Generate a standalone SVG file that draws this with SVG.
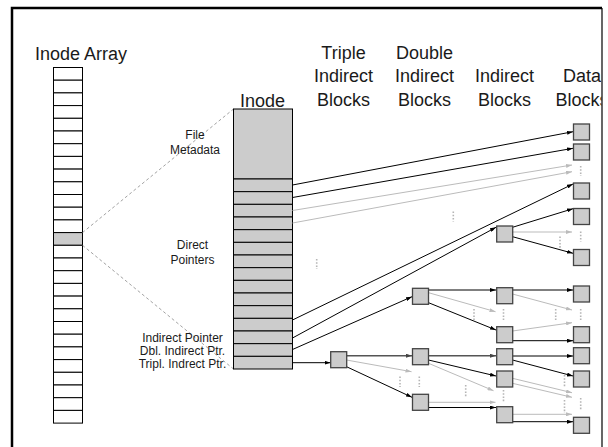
<svg xmlns="http://www.w3.org/2000/svg" width="608" height="447" viewBox="0 0 608 447">
<defs>
<style>
.hdr{font-family:"Liberation Sans",Arial,sans-serif;font-size:18px;fill:#1a1a1a;text-anchor:middle}
.lbl{font-family:"Liberation Sans",Arial,sans-serif;font-size:12px;fill:#1a1a1a;text-anchor:middle}
.cell{fill:#fff;stroke:#000;stroke-width:1}
.icell{fill:#cccccc;stroke:#000;stroke-width:1}
.blk{fill:#cccccc;stroke:#444;stroke-width:1.3}
.blk-line{fill:none;stroke:#000;stroke-width:1;marker-end:url(#ab)}
.gry-line{fill:none;stroke:#bbbbbb;stroke-width:1;marker-end:url(#ag)}
.drk-line{fill:none;stroke:#555;stroke-width:1.6;marker-end:url(#ad)}
.dots{stroke:#b5b5b5;stroke-width:1.6;stroke-dasharray:1.6,1.6;fill:none}
.dash{stroke:#8a8a8a;stroke-width:0.8;stroke-dasharray:3,2.5;fill:none}
</style>
<marker id="ab" viewBox="0 0 6 4" refX="6" refY="2" markerWidth="6" markerHeight="4" markerUnits="userSpaceOnUse" orient="auto"><path d="M0,0 L6,2 L0,4 z" fill="#000"/></marker>
<marker id="ag" viewBox="0 0 6 4" refX="6" refY="2" markerWidth="6" markerHeight="4" markerUnits="userSpaceOnUse" orient="auto"><path d="M0,0 L6,2 L0,4 z" fill="#bbbbbb"/></marker>
<marker id="ad" viewBox="0 0 6 4" refX="6" refY="2" markerWidth="6" markerHeight="4" markerUnits="userSpaceOnUse" orient="auto"><path d="M0,0 L6,2 L0,4 z" fill="#444"/></marker>
<clipPath id="frameclip"><rect x="12" y="8" width="589.5" height="445"/></clipPath>
</defs>
<rect width="608" height="447" fill="#fff"/>

<g id="frame">
<path d="M12,450 V8 H602" fill="none" stroke="#000" stroke-width="2.5"/>
<path d="M602,8 V450" fill="none" stroke="#000" stroke-width="1.2"/>
</g>

<g id="headers" clip-path="url(#frameclip)">
<text x="35" y="60" font-family="Liberation Sans, Arial, sans-serif" font-size="18" fill="#1a1a1a">Inode Array</text>
<text class="hdr" x="262.5" y="106.5">Inode</text>
<text class="hdr" x="343.5" y="58.5">Triple</text>
<text class="hdr" x="343.5" y="82">Indirect</text>
<text class="hdr" x="343.5" y="106">Blocks</text>
<text class="hdr" x="424.5" y="58.5">Double</text>
<text class="hdr" x="424.5" y="82">Indirect</text>
<text class="hdr" x="424.5" y="106">Blocks</text>
<text class="hdr" x="504.5" y="82">Indirect</text>
<text class="hdr" x="504.5" y="106">Blocks</text>
<text class="hdr" x="582" y="82">Data</text>
<text class="hdr" x="582" y="106">Blocks</text>
</g>

<g id="inode-array">
<rect class="cell" x="53.5" y="67.5" width="29" height="12.7"/>
<rect class="cell" x="53.5" y="80.2" width="29" height="12.7"/>
<rect class="cell" x="53.5" y="92.9" width="29" height="12.7"/>
<rect class="cell" x="53.5" y="105.6" width="29" height="12.7"/>
<rect class="cell" x="53.5" y="118.3" width="29" height="12.7"/>
<rect class="cell" x="53.5" y="131" width="29" height="12.7"/>
<rect class="cell" x="53.5" y="143.7" width="29" height="12.7"/>
<rect class="cell" x="53.5" y="156.4" width="29" height="12.7"/>
<rect class="cell" x="53.5" y="169.1" width="29" height="12.7"/>
<rect class="cell" x="53.5" y="181.8" width="29" height="12.7"/>
<rect class="cell" x="53.5" y="194.5" width="29" height="12.7"/>
<rect class="cell" x="53.5" y="207.2" width="29" height="12.7"/>
<rect class="cell" x="53.5" y="219.9" width="29" height="12.7"/>
<rect class="icell" x="53.5" y="232.6" width="29" height="12.7"/>
<rect class="cell" x="53.5" y="245.3" width="29" height="12.7"/>
<rect class="cell" x="53.5" y="258" width="29" height="12.7"/>
<rect class="cell" x="53.5" y="270.7" width="29" height="12.7"/>
<rect class="cell" x="53.5" y="283.4" width="29" height="12.7"/>
<rect class="cell" x="53.5" y="296.1" width="29" height="12.7"/>
<rect class="cell" x="53.5" y="308.8" width="29" height="12.7"/>
<rect class="cell" x="53.5" y="321.5" width="29" height="12.7"/>
<rect class="cell" x="53.5" y="334.2" width="29" height="12.7"/>
<rect class="cell" x="53.5" y="346.9" width="29" height="12.7"/>
<rect class="cell" x="53.5" y="359.6" width="29" height="12.7"/>
<rect class="cell" x="53.5" y="372.3" width="29" height="12.7"/>
<rect class="cell" x="53.5" y="385" width="29" height="12.7"/>
<rect class="cell" x="53.5" y="397.7" width="29" height="12.7"/>
<rect class="cell" x="53.5" y="410.4" width="29" height="12.7"/>
</g>

<g id="zoom-lines">
<line class="dash" x1="82.5" y1="232.6" x2="233.5" y2="109"/>
<line class="dash" x1="82.5" y1="245.3" x2="233.5" y2="369"/>
</g>

<g id="inode">
<rect class="icell" x="233.5" y="109" width="59" height="70"/>
<rect class="icell" x="233.5" y="179" width="59" height="12.67"/>
<rect class="icell" x="233.5" y="191.67" width="59" height="12.67"/>
<rect class="icell" x="233.5" y="204.33" width="59" height="12.67"/>
<rect class="icell" x="233.5" y="217" width="59" height="12.67"/>
<rect class="icell" x="233.5" y="229.67" width="59" height="12.67"/>
<rect class="icell" x="233.5" y="242.33" width="59" height="12.67"/>
<rect class="icell" x="233.5" y="255" width="59" height="12.67"/>
<rect class="icell" x="233.5" y="267.67" width="59" height="12.67"/>
<rect class="icell" x="233.5" y="280.33" width="59" height="12.67"/>
<rect class="icell" x="233.5" y="293" width="59" height="12.67"/>
<rect class="icell" x="233.5" y="305.67" width="59" height="12.67"/>
<rect class="icell" x="233.5" y="318.33" width="59" height="12.67"/>
<rect class="icell" x="233.5" y="331" width="59" height="12.67"/>
<rect class="icell" x="233.5" y="343.67" width="59" height="12.67"/>
<rect class="icell" x="233.5" y="356.33" width="59" height="12.67"/>
</g>

<g id="inode-labels">
<text class="lbl" x="195" y="139">File</text>
<text class="lbl" x="195" y="153.5">Metadata</text>
<text class="lbl" x="192.5" y="249">Direct</text>
<text class="lbl" x="192.5" y="263.5">Pointers</text>
<text class="lbl" x="182.5" y="341.5">Indirect Pointer</text>
<text class="lbl" x="182.5" y="354.5">Dbl. Indirect Ptr.</text>
<text class="lbl" x="182.5" y="367.5">Tripl. Indrect Ptr.</text>
</g>

<g id="connectors">
<!-- from inode -->
<line class="blk-line" x1="292.5" y1="185" x2="573" y2="131.7"/>
<line class="blk-line" x1="292.5" y1="197.5" x2="573" y2="148.3"/>
<line class="gry-line" x1="292.5" y1="210.5" x2="572" y2="165"/>
<line class="gry-line" x1="292.5" y1="223" x2="572" y2="171.7"/>
<line class="blk-line" x1="292.5" y1="320" x2="573" y2="184"/>
<line class="blk-line" x1="292.5" y1="338" x2="496" y2="227.3"/>
<line class="blk-line" x1="292.5" y1="349.5" x2="412" y2="296.7"/>
<line class="blk-line" x1="292.5" y1="362.7" x2="330.5" y2="362.7"/>
<!-- from triple -->
<line class="drk-line" x1="346.5" y1="355.7" x2="412" y2="355.7"/>
<line class="gry-line" x1="346.5" y1="360" x2="411.5" y2="371.7"/>
<line class="blk-line" x1="346.5" y1="366.7" x2="412" y2="397.3"/>
<!-- from D1 -->
<line class="blk-line" x1="428.5" y1="290" x2="496" y2="290"/>
<line class="gry-line" x1="428.5" y1="292.7" x2="495.5" y2="311.7"/>
<line class="blk-line" x1="428.5" y1="302.7" x2="496" y2="330"/>
<!-- from D2 -->
<line class="drk-line" x1="428.5" y1="355.7" x2="496" y2="355.7"/>
<line class="blk-line" x1="428.5" y1="360" x2="496" y2="376"/>
<line class="gry-line" x1="428.5" y1="363.3" x2="493.5" y2="390.7"/>
<!-- from D3 -->
<line class="gry-line" x1="428.5" y1="402.3" x2="495.5" y2="402.3"/>
<line class="blk-line" x1="428.5" y1="407.5" x2="496" y2="407.5"/>
<!-- from I1 -->
<line class="blk-line" x1="512.5" y1="227.3" x2="573" y2="208.7"/>
<line class="gry-line" x1="512.5" y1="232" x2="572" y2="232"/>
<line class="blk-line" x1="512.5" y1="236.7" x2="573" y2="253.3"/>
<!-- from I2 -->
<line class="blk-line" x1="512.5" y1="290" x2="573" y2="290"/>
<line class="gry-line" x1="512.5" y1="294" x2="572" y2="310"/>
<!-- from I3 -->
<line class="gry-line" x1="512.5" y1="331" x2="572" y2="322.7"/>
<line class="blk-line" x1="512.5" y1="340.7" x2="573" y2="340.7"/>
<!-- from I4 -->
<line class="blk-line" x1="512.5" y1="356" x2="573" y2="356"/>
<line class="blk-line" x1="512.5" y1="360" x2="573" y2="376"/>
<!-- from I5 -->
<line class="gry-line" x1="512.5" y1="378.3" x2="572" y2="392.7"/>
<line class="gry-line" x1="512.5" y1="383.3" x2="572" y2="397.3"/>
<!-- from I6 -->
<line class="gry-line" x1="512.5" y1="414.3" x2="572" y2="414.3"/>
<line class="blk-line" x1="512.5" y1="421.7" x2="573" y2="421.7"/>
</g>

<g id="ellipses">
<line class="dots" x1="580.7" y1="166" x2="580.7" y2="176"/>
<line class="dots" x1="453.3" y1="211.5" x2="453.3" y2="221.5"/>
<line class="dots" x1="316.7" y1="259" x2="316.7" y2="269"/>
<line class="dots" x1="580.7" y1="231.5" x2="580.7" y2="241.5"/>
<line class="dots" x1="560" y1="236.5" x2="560" y2="249"/>
<line class="dots" x1="474" y1="309" x2="474" y2="320"/>
<line class="dots" x1="503.5" y1="309" x2="503.5" y2="320"/>
<line class="dots" x1="555.7" y1="309" x2="555.7" y2="320"/>
<line class="dots" x1="580.7" y1="309" x2="580.7" y2="320"/>
<line class="dots" x1="400" y1="376.5" x2="400" y2="387"/>
<line class="dots" x1="419.3" y1="376.5" x2="419.3" y2="387"/>
<line class="dots" x1="465.7" y1="385" x2="465.7" y2="397"/>
<line class="dots" x1="503.5" y1="390" x2="503.5" y2="402"/>
<line class="dots" x1="564.5" y1="375" x2="564.5" y2="387"/>
<line class="dots" x1="564.5" y1="400" x2="564.5" y2="413"/>
<line class="dots" x1="580.7" y1="398" x2="580.7" y2="410"/>
</g>

<g id="triple-indirect"><rect id="t1" class="blk" x="330.7" y="351.7" width="16" height="16"/></g>
<g id="double-indirect">
<rect id="d1" class="blk" x="412.5" y="288.3" width="16" height="16"/>
<rect id="d2" class="blk" x="412.5" y="348.7" width="16" height="16"/>
<rect id="d3" class="blk" x="412.5" y="394.3" width="16" height="16"/>
</g>
<g id="indirect">
<rect id="i1" class="blk" x="496.7" y="226" width="16" height="16"/>
<rect id="i2" class="blk" x="496.7" y="287.7" width="16" height="16"/>
<rect id="i3" class="blk" x="496.7" y="326.7" width="16" height="16"/>
<rect id="i4" class="blk" x="496.7" y="348.7" width="16" height="16"/>
<rect id="i5" class="blk" x="496.7" y="371" width="16" height="16"/>
<rect id="i6" class="blk" x="496.7" y="406.7" width="16" height="16"/>
</g>
<g id="data">
<rect id="db1" class="blk" x="573.5" y="124" width="16" height="16"/>
<rect id="db2" class="blk" x="573.5" y="144" width="16" height="16"/>
<rect id="db3" class="blk" x="573.5" y="183" width="16" height="16"/>
<rect id="db4" class="blk" x="573.5" y="208.5" width="16" height="16"/>
<rect id="db5" class="blk" x="573.5" y="249.5" width="16" height="16"/>
<rect id="db6" class="blk" x="573.5" y="286" width="16" height="16"/>
<rect id="db7" class="blk" x="573.5" y="326.7" width="16" height="16"/>
<rect id="db8" class="blk" x="573.5" y="347.7" width="16" height="16"/>
<rect id="db9" class="blk" x="573.5" y="371" width="16" height="16"/>
<rect id="db10" class="blk" x="573.5" y="417.3" width="16" height="16"/>
</g>
</svg>
